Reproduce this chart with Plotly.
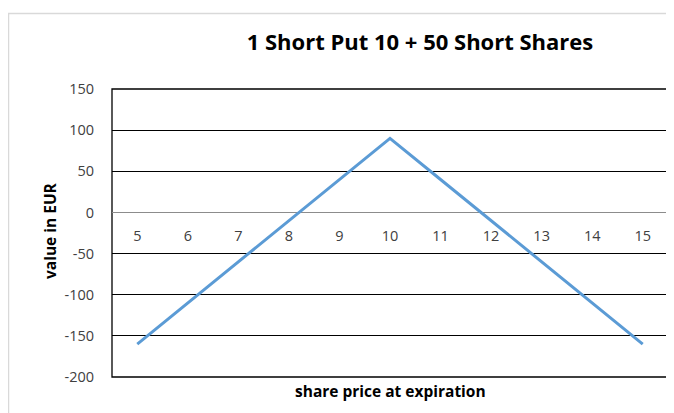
import plotly.graph_objects as go

share_price = [5, 6, 7, 8, 9, 10, 11, 12, 13, 14, 15]
value_eur = [-160, -110, -60, -10, 40, 90, 40, -10, -60, -110, -160]
y_ticks = [-200, -150, -100, -50, 0, 50, 100, 150]
y_tick_text = [str(v) for v in y_ticks]

# page body has an 8px margin; compensate so the plot lands where the reference has it
OFF = 8
W, H = 674 - OFF, 413 - OFF
L, R, T, B = 112 - OFF, 6, 89 - OFF, 36
pw, ph = W - L - R, H - T - B

def px_x(x):  # window pixel -> paper x
    return (x - OFF - L) / pw

def px_y(y):  # window pixel -> paper y
    return (T + ph - (y - OFF)) / ph

fig = go.Figure()
fig.add_trace(go.Scatter(
    x=[str(v) for v in share_price], y=value_eur, mode="lines",
    line=dict(color="#5B9BD5", width=3), showlegend=False,
))

ymin, ymax = -200, 150
zero_pos = (0 - ymin) / (ymax - ymin)

fig.update_layout(
    width=W, height=H,
    margin=dict(l=L, r=R, t=T, b=B),
    paper_bgcolor="white", plot_bgcolor="white",
    font=dict(family="Open Sans, Liberation Sans, sans-serif", color="#595959", size=14),
    title=dict(text="<b>1 Short Put 10 + 50 Short Shares</b>",
               font=dict(size=22, color="black"),
               x=(420 - OFF) / W, xanchor="center", y=1 - (42 - OFF) / H, yanchor="middle"),
    xaxis=dict(type="category", anchor="free", position=zero_pos,
               range=[-0.5, len(share_price) - 0.5],
               showgrid=False, showline=False, zeroline=False,
               ticks="outside", ticklen=10, tickcolor="rgba(0,0,0,0)",
               tickfont=dict(size=14.5, color="#404040")),
    yaxis=dict(range=[ymin, ymax], tickvals=y_ticks, ticktext=y_tick_text,
               showgrid=True, gridcolor="black", gridwidth=1.3,
               zeroline=True, zerolinecolor="#8C8C8C", zerolinewidth=1.3,
               showline=False,
               ticks="outside", ticklen=14, tickcolor="rgba(0,0,0,0)",
               tickfont=dict(size=14.5, color="#404040")),
)

fig.add_annotation(text="<b>share price at expiration</b>", xref="paper", yref="paper",
                   x=px_x(390), y=px_y(391), showarrow=False,
                   font=dict(size=15.5, color="black"), xanchor="center", yanchor="middle")
fig.add_annotation(text="<b>value in EUR</b>", xref="paper", yref="paper",
                   x=px_x(50), y=px_y(231), showarrow=False, textangle=-90,
                   font=dict(size=15.5, color="black"), xanchor="center", yanchor="middle")
# chart-area border (light grey)
fig.add_shape(type="rect", xref="paper", yref="paper",
              x0=px_x(8.5), x1=1.2, y0=-0.3, y1=px_y(13.5),
              line=dict(color="#D9D9D9", width=1.5), layer="below")
# plot-area border (black)
fig.add_shape(type="rect", xref="paper", yref="paper",
              x0=0, x1=1, y0=0, y1=1,
              line=dict(color="black", width=1.3), layer="below")

fig.write_html("out.html")
